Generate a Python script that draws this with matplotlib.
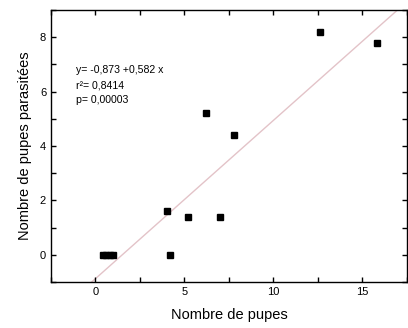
import matplotlib
matplotlib.use("Agg")
import matplotlib.pyplot as plt
import numpy as np

plt.rcParams['font.family'] = ['Liberation Sans', 'DejaVu Sans']

# nombre de pupes / nombre de pupes parasitées
pupes = [0.4, 0.6, 0.8, 1.0, 4.0, 4.2, 5.2, 6.2, 7.0, 7.8, 12.6, 15.8]
parasitees = [0.0, 0.0, 0.0, 0.0, 1.6, 0.0, 1.4, 5.2, 1.4, 4.4, 8.2, 7.8]

intercept = -0.873
slope = 0.582
r2 = "0,8414"
pval = "0,00003"

fig = plt.figure(figsize=(4.08, 3.28), dpi=100)
ax = fig.add_axes([0.125, 0.14, 0.8725, 0.8293])

xs = np.array([-2.5, 17.5])
ax.plot(xs, intercept + slope * xs, color='#e3c3c8', lw=1.0, zorder=1)
ax.plot(pupes, parasitees, 's', color='black', ms=4.3, zorder=2)

ax.set_xlim(-2.5, 17.5)
ax.set_ylim(-1, 9)
ax.set_xticks([0, 5, 10, 15])
ax.set_xticks([-2.5, 2.5, 7.5, 12.5, 17.5], minor=True)
ax.set_yticks([0, 2, 4, 6, 8])
ax.set_yticks([-1, 1, 3, 5, 7, 9], minor=True)
ax.tick_params(which='both', direction='in', top=True, right=True,
               labelsize=8, length=3.5, width=1.0)
for s in ax.spines.values():
    s.set_linewidth(1.0)

ax.set_xlabel("Nombre de pupes", fontsize=10.5, labelpad=8)
ax.set_ylabel("Nombre de pupes parasitées", fontsize=10.5, labelpad=6)

ax.text(-1.1, 6.79, "y= -0,873 +0,582 x", fontsize=7.6, va='center')
ax.text(-1.1, 6.22, "r²= " + r2, fontsize=7.6, va='center')
ax.text(-1.1, 5.68, "p= " + pval, fontsize=7.6, va='center')

fig.savefig("out.png", dpi=100)
